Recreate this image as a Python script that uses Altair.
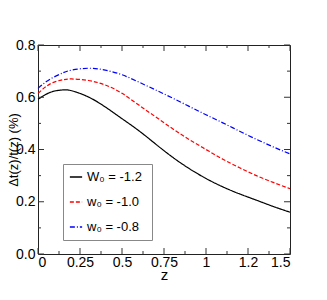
import altair as alt
import pandas as pd

# ---- data ----
z = [0, 0.05, 0.1, 0.15, 0.2, 0.3, 0.4, 0.5, 0.6, 0.7, 0.8, 0.9, 1.0, 1.1, 1.2, 1.3, 1.4, 1.5]
black = [0.592, 0.612, 0.624, 0.628, 0.625, 0.601, 0.563, 0.518, 0.472, 0.421, 0.371, 0.327, 0.289, 0.257, 0.230, 0.206, 0.182, 0.160]
red = [0.615, 0.642, 0.659, 0.667, 0.670, 0.664, 0.647, 0.615, 0.570, 0.525, 0.480, 0.438, 0.400, 0.363, 0.330, 0.300, 0.274, 0.250]
blue = [0.634, 0.660, 0.679, 0.694, 0.704, 0.711, 0.704, 0.686, 0.658, 0.628, 0.597, 0.565, 0.533, 0.502, 0.470, 0.439, 0.410, 0.383]
labels = ["W\u2080 =  -1.2", "w\u2080 =  -1.0", "w\u2080 =  -0.8"]
colors = ["#000000", "#ff0000", "#0000ff"]
dashes = [[1, 0], [4, 2], [5, 2, 1, 2]]

x_major = [0, 0.25, 0.5, 0.75, 1.0, 1.25, 1.5]
x_minor = [0.125, 0.375, 0.625, 0.875, 1.125, 1.375]
y_major = [0, 0.2, 0.4, 0.6, 0.8]
y_minor = [0.1, 0.3, 0.5, 0.7]

rows = []
for lab, vals in zip(labels, [black, red, blue]):
    for zi, vi in zip(z, vals):
        rows.append({"z": zi, "v": vi, "series": lab})
df = pd.DataFrame(rows)

W, H = 252, 209
FONT = "Liberation Sans"

xs = alt.Scale(domain=[0, 1.5], nice=False, zero=False)
ys = alt.Scale(domain=[0, 0.8], nice=False, zero=False)

label_expr = "datum.value == 1.25 ? '1.2' : format(datum.value, '')"

main = alt.Chart(df).mark_line(strokeWidth=1.2, interpolate="natural").encode(
    x=alt.X("z:Q", scale=xs, axis=alt.Axis(
        orient="bottom", values=x_major, ticks=False, domain=False, grid=False,
        labelExpr=label_expr, labelPadding=1, labelFont=FONT, labelFontSize=14,
        labelColor="black", title="z", titleFont=FONT, titleFontSize=15,
        titleFontWeight="normal", titlePadding=-2, titleColor="black")),
    y=alt.Y("v:Q", scale=ys, axis=alt.Axis(
        orient="left", values=y_major, ticks=False, domain=False, grid=False,
        format=".1f", labelPadding=3, labelFont=FONT, labelFontSize=14,
        labelColor="black", title="\u0394t(z)/t(z) (%)", titleFont=FONT,
        titleFontSize=13, titleFontWeight="normal", titleColor="black",
        titleX=-24.5, titleY=H / 2, titleAngle=270, titleAlign="center",
        titleBaseline="middle")),
    color=alt.Color("series:N", scale=alt.Scale(domain=labels, range=colors), title=None,
                    legend=alt.Legend(orient="none", legendX=25, legendY=119)),
    strokeDash=alt.StrokeDash("series:N", scale=alt.Scale(domain=labels, range=dashes), title=None,
                              legend=alt.Legend(orient="none", legendX=25, legendY=119)),
)


def xticks(vals, size, top):
    d = pd.DataFrame({"z": vals})
    if top:
        y1, y2 = 0, size
    else:
        y1, y2 = H, H - size
    return alt.Chart(d).mark_rule(color="#333", strokeWidth=1).encode(
        x=alt.X("z:Q", scale=xs), y=alt.value(y1), y2=alt.value(y2))


def yticks(vals, size, right):
    d = pd.DataFrame({"v": vals})
    if right:
        x1, x2 = W, W - size
    else:
        x1, x2 = 0, size
    return alt.Chart(d).mark_rule(color="#333", strokeWidth=1).encode(
        y=alt.Y("v:Q", scale=ys), x=alt.value(x1), x2=alt.value(x2))


layers = [
    main,
    xticks(x_major, 6, False), xticks(x_major, 6, True),
    xticks(x_minor, 3, False), xticks(x_minor, 3, True),
    yticks(y_major, 6, False), yticks(y_major, 6, True),
    yticks(y_minor, 3, False), yticks(y_minor, 3, True),
]

chart = alt.layer(*layers).properties(
    width=W, height=H,
    padding={"left": 30, "top": 37, "right": 29, "bottom": 46},
    autosize=alt.AutoSizeParams(type="none"),
).configure_view(stroke="#222", strokeWidth=1).configure_legend(
    strokeColor="#888", padding=6, fillColor="white",
    labelFont=FONT, labelFontSize=13, labelColor="black",
    symbolType="stroke", symbolStrokeWidth=1.3, symbolSize=150,
    rowPadding=11, labelOffset=4,
)

chart.save("out.html", embed_options={"renderer": "svg", "actions": False})
